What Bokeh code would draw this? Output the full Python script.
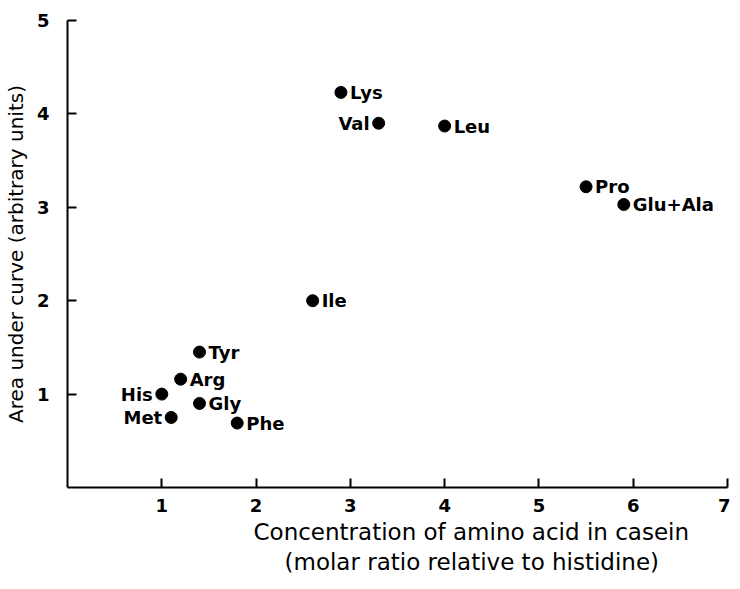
from bokeh.plotting import figure
from bokeh.models import ColumnDataSource, FixedTicker, Range1d, Title
from bokeh.core.properties import value
from bokeh.embed import file_html
from bokeh.resources import INLINE

names = ["Lys", "Val", "Leu", "Pro", "Glu+Ala", "Ile", "Tyr", "Arg", "His", "Gly", "Met", "Phe"]
conc = [2.9, 3.3, 4.0, 5.5, 5.9, 2.6, 1.4, 1.2, 1.0, 1.4, 1.1, 1.8]
area = [4.23, 3.9, 3.87, 3.22, 3.03, 2.0, 1.45, 1.16, 1.0, 0.9, 0.75, 0.69]
left_labelled = ["Val", "His", "Met"]
x_ticks = [1, 2, 3, 4, 5, 6, 7]
y_ticks = [1, 2, 3, 4, 5]
x_title = ["Concentration of amino acid in casein", "(molar ratio relative to histidine)"]
y_title = "Area under curve (arbitrary units)"

FONT = "DejaVu Sans"

p = figure(frame_width=660, frame_height=467, output_backend="svg", toolbar_location=None,
           x_range=Range1d(0, 7), y_range=Range1d(0, 5),
           min_border_left=61, min_border_right=3, min_border_top=20, min_border_bottom=0)
p.outline_line_color = None
p.grid.grid_line_color = None
p.background_fill_color = "white"
p.border_fill_color = "white"

for ax, ticks in ((p.xaxis, x_ticks), (p.yaxis, y_ticks)):
    ax.ticker = FixedTicker(ticks=ticks)
    ax.major_tick_in = 9
    ax.major_tick_out = 0
    ax.minor_tick_in = 0
    ax.minor_tick_out = 0
    ax.axis_line_width = 2
    ax.major_tick_line_width = 2
    ax.axis_line_color = "black"
    ax.major_tick_line_color = "black"
    ax.major_label_text_font = FONT
    ax.major_label_text_font_size = "18px"
    ax.major_label_text_font_style = "bold"
    ax.major_label_text_color = "black"
    ax.axis_label_text_font = FONT
    ax.axis_label_text_font_style = "normal"
    ax.axis_label_text_color = "black"

p.yaxis.axis_label = y_title
p.yaxis.axis_label_text_font_size = "20px"
p.xaxis.major_label_standoff = 11
p.yaxis.major_label_standoff = 18
p.yaxis.axis_label_standoff = 6

for line, off, sd in zip(x_title, [186, 217], [4, 0]):
    t = Title(text=line, align="left", offset=off, text_font=FONT,
              text_font_size="23px", text_font_style="normal", text_color="black",
              standoff=sd)
    p.add_layout(t, "below")

src = ColumnDataSource(dict(x=conc, y=area, n=names))
p.scatter("x", "y", source=src, size=12, color="black")

r_idx = [i for i, n in enumerate(names) if n not in left_labelled]
l_idx = [i for i, n in enumerate(names) if n in left_labelled]
src_r = ColumnDataSource(dict(x=[conc[i] for i in r_idx], y=[area[i] for i in r_idx], n=[names[i] for i in r_idx]))
src_l = ColumnDataSource(dict(x=[conc[i] for i in l_idx], y=[area[i] for i in l_idx], n=[names[i] for i in l_idx]))

p.text("x", "y", text="n", source=src_r, x_offset=9, y_offset=0,
       text_align="left", text_baseline="middle", text_font=value(FONT),
       text_font_size="18px", text_font_style="bold", text_color="black")
p.text("x", "y", text="n", source=src_l, x_offset=-9, y_offset=0,
       text_align="right", text_baseline="middle", text_font=value(FONT),
       text_font_size="18px", text_font_style="bold", text_color="black")

open("out.html", "w").write(file_html(p, INLINE))
